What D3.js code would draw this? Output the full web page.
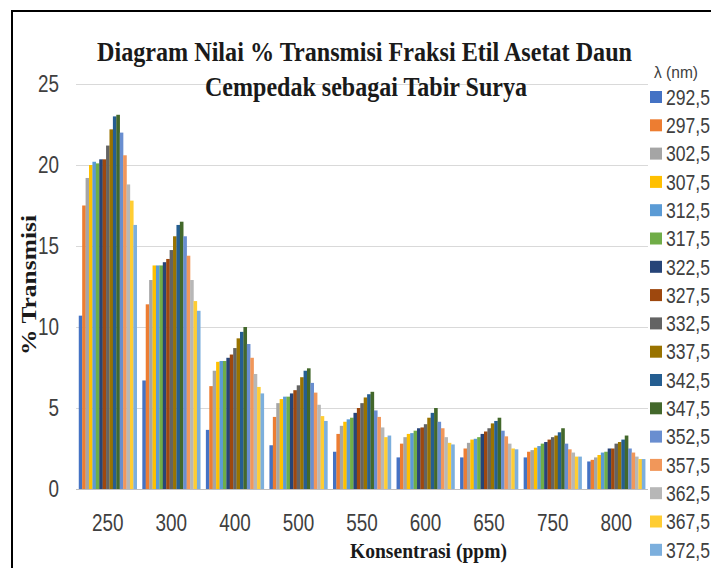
<!DOCTYPE html>
<html><head><meta charset="utf-8">
<script src="https://cdn.jsdelivr.net/npm/d3@7"></script>
<style>
html,body{margin:0;padding:0;background:#fff;}
svg{display:block;}
</style></head>
<body>
<svg id="chart" width="711" height="568"></svg>
<script>
const categories = ["250","300","400","500","550","600","650","750","800"];
const seriesNames = ["292,5","297,5","302,5","307,5","312,5","317,5","322,5","327,5","332,5","337,5","342,5","347,5","352,5","357,5","362,5","367,5","372,5"];
const colors = ["#4472C4","#ED7D31","#A5A5A5","#FFC000","#5B9BD5","#70AD47","#264478","#9E480E","#636363","#997300","#255E91","#43682B","#698ED0","#F1975A","#B7B7B7","#FFCD33","#7CAFDD"];
// values per concentration (rows) for each wavelength (columns)
const v250 = [10.7,17.5,19.2,20.0,20.2,20.1,20.35,20.35,21.2,22.2,23.0,23.1,22.0,20.6,18.8,17.8,16.3];
const v300 = [6.7,11.4,12.9,13.8,13.8,13.8,14.0,14.2,14.75,15.6,16.3,16.5,15.6,14.4,12.9,11.6,11.0];
const v400 = [3.65,6.35,7.3,7.85,7.9,7.9,8.1,8.3,8.7,9.3,9.7,10.0,8.95,8.1,7.1,6.3,5.9];
const v500 = [2.7,4.45,5.3,5.55,5.7,5.7,5.9,6.1,6.4,6.9,7.3,7.45,6.55,5.95,5.2,4.5,4.2];
const v550 = [2.3,3.4,3.9,4.15,4.3,4.4,4.7,5.0,5.3,5.65,5.85,6.0,4.85,4.45,3.8,3.2,3.3];
const v600 = [1.95,2.8,3.2,3.4,3.45,3.6,3.75,3.8,4.0,4.4,4.7,5.0,4.15,3.75,3.2,2.85,2.75];
const v650 = [1.95,2.5,2.85,3.05,3.1,3.2,3.4,3.55,3.75,4.05,4.2,4.4,3.6,3.25,2.8,2.5,2.45];
const v750 = [1.95,2.3,2.4,2.55,2.65,2.8,2.9,3.05,3.2,3.3,3.5,3.75,2.8,2.45,2.25,2.0,2.0];
const v800 = [1.7,1.8,1.95,2.1,2.25,2.3,2.5,2.5,2.8,2.9,3.05,3.3,2.5,2.25,2.0,1.85,1.85];
const values = [v250,v300,v400,v500,v550,v600,v650,v750,v800];
const yTicks = [0,5,10,15,20,25];

const svg = d3.select("#chart");
const sans = "'Liberation Sans',Arial,sans-serif";
const serif = "'Liberation Serif','Times New Roman',serif";
const charW = 10.5; // condensed glyph width

// frame
svg.append("rect").attr("x",12).attr("y",11).attr("width",760).attr("height",640)
  .attr("fill","none").attr("stroke","#000").attr("stroke-width",2);

const x0 = d3.scaleBand().domain(categories).range([76,648]).paddingInner(0.087).paddingOuter(0.0435);
const x1 = d3.scaleBand().domain(d3.range(seriesNames.length)).range([0,x0.bandwidth()]).padding(0);
const y = d3.scaleLinear().domain([0,25]).range([489,84]);

// gridlines
svg.append("g").selectAll("line").data(yTicks).join("line")
  .attr("x1",76).attr("x2",648).attr("y1",d=>Math.round(y(d))+0.5).attr("y2",d=>Math.round(y(d))+0.5)
  .attr("stroke",d=>d===0?"#BFBFBF":"#D9D9D9").attr("stroke-width",1);

// y tick labels
svg.append("g").selectAll("text").data(yTicks).join("text")
  .attr("x",59).attr("y",d=>y(d)).attr("dy","0.35em").attr("text-anchor","end")
  .attr("textLength",d=>String(d).length*charW).attr("lengthAdjust","spacingAndGlyphs")
  .attr("font-family",sans).attr("font-size",23).attr("fill","#404040").text(d=>d);

// bars
const groups = svg.append("g").selectAll("g").data(values).join("g")
  .attr("transform",(d,i)=>`translate(${x0(categories[i])},0)`);
groups.selectAll("rect").data(d=>d.map((v,j)=>({v,j}))).join("rect")
  .attr("x",d=>x1(d.j)).attr("width",x1.bandwidth()+0.2)
  .attr("y",d=>y(d.v)).attr("height",d=>y(0)-y(d.v))
  .attr("fill",d=>colors[d.j]);

// x tick labels
svg.append("g").selectAll("text").data(categories).join("text")
  .attr("x",d=>x0(d)+x0.bandwidth()/2).attr("y",523).attr("dy","0.35em").attr("text-anchor","middle")
  .attr("textLength",d=>d.length*charW).attr("lengthAdjust","spacingAndGlyphs")
  .attr("font-family",sans).attr("font-size",23).attr("fill","#404040").text(d=>d);

// title
svg.append("text").attr("x",97).attr("y",61).attr("textLength",535).attr("lengthAdjust","spacingAndGlyphs")
  .attr("font-family",serif).attr("font-weight","bold").attr("font-size",28).attr("fill","#1a1a1a")
  .text("Diagram Nilai % Transmisi Fraksi Etil Asetat Daun");
svg.append("text").attr("x",205).attr("y",96).attr("textLength",322).attr("lengthAdjust","spacingAndGlyphs")
  .attr("font-family",serif).attr("font-weight","bold").attr("font-size",28).attr("fill","#1a1a1a")
  .text("Cempedak sebagai Tabir Surya");

// axis titles
svg.append("text").attr("transform","translate(36,285) rotate(-90)").attr("text-anchor","middle")
  .attr("textLength",140).attr("lengthAdjust","spacingAndGlyphs")
  .attr("font-family",serif).attr("font-weight","bold").attr("font-size",22).attr("fill","#1a1a1a")
  .text("% Transmisi");
svg.append("text").attr("x",350).attr("y",558).attr("textLength",157).attr("lengthAdjust","spacingAndGlyphs")
  .attr("font-family",serif).attr("font-weight","bold").attr("font-size",22).attr("fill","#1a1a1a")
  .text("Konsentrasi (ppm)");

// legend
svg.append("text").attr("x",654).attr("y",78).attr("textLength",44).attr("lengthAdjust","spacingAndGlyphs")
  .attr("font-family",sans).attr("font-size",16).attr("fill","#404040")
  .text("λ (nm)");
const leg = svg.append("g").selectAll("g").data(seriesNames).join("g")
  .attr("transform",(d,i)=>`translate(650,${97+i*28.3})`);
leg.append("rect").attr("x",0).attr("y",-6).attr("width",12).attr("height",12).attr("fill",(d,i)=>colors[i]);
leg.append("text").attr("x",16).attr("y",0).attr("dy","0.35em")
  .attr("textLength",44).attr("lengthAdjust","spacingAndGlyphs")
  .attr("font-family",sans).attr("font-size",22)
  .attr("fill","#404040").text(d=>d);
</script>
</body></html>
